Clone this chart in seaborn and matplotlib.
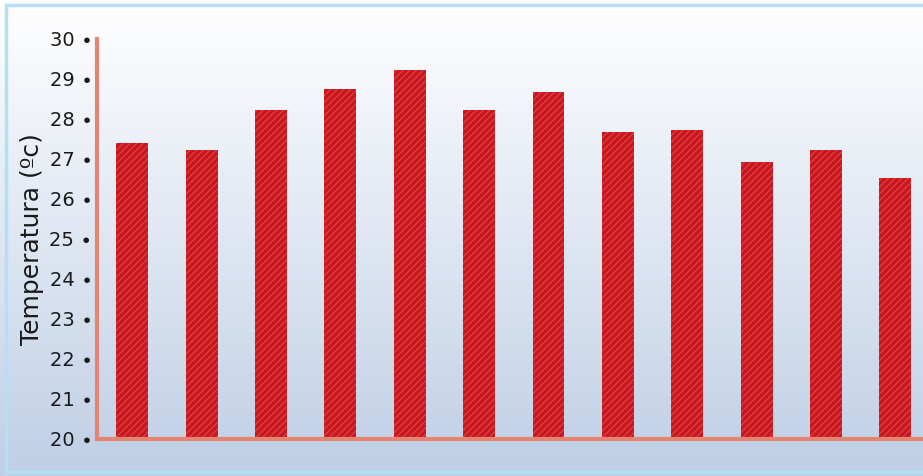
import numpy as np
import pandas as pd
import matplotlib
matplotlib.use("Agg")
import matplotlib.pyplot as plt
from matplotlib.patches import Rectangle
import seaborn as sns

# data (no x labels shown)
categories = [str(i) for i in range(1, 13)]
temperatures = [27.4, 27.22, 28.22, 28.75, 29.22, 28.22, 28.68, 27.68, 27.72, 26.92, 27.22, 26.52]
yticks = list(range(20, 31))

sns.set_theme(style="white")
plt.rcParams['font.family'] = ['DejaVu Sans']
plt.rcParams['hatch.linewidth'] = 0.7

df = pd.DataFrame({"Categoria": categories, "Temperatura": temperatures})

fig = plt.figure(figsize=(9.23, 4.76), dpi=100)

# background gradient, white on top to pale blue at bottom
bg = fig.add_axes([0, 0, 1, 1], zorder=-10)
top = np.array([1.0, 1.0, 1.0])
bot = np.array([0.75, 0.81, 0.90])
t = np.linspace(0, 1, 256)[:, None]
grad = top * (1 - t) + bot * t
bg.imshow(grad[:, None, :], aspect="auto", extent=[0, 1, 0, 1])
bg.set_axis_off()
fig.patches.append(Rectangle((0.006, 0.008), 1.1, 0.982, transform=fig.transFigure,
                             fill=False, edgecolor="#b5dff4", linewidth=2.5))

ax = fig.add_axes([97 / 923, 37 / 476, (923 - 97) / 923, 400 / 476])
ax.set_facecolor("none")
sns.barplot(data=df, x="Categoria", y="Temperatura", ax=ax, width=0.46,
            color="#c8181f", saturation=1, hatch="/////", edgecolor="#e8484c",
            linewidth=0, zorder=2)

ax.set_ylim(20, 30)
ax.set_xlim(-0.51, 11.4)
ax.set_yticks(yticks)
ax.set_yticklabels([f"{v} \u2219" for v in yticks], fontsize=14, color="#1a1a1a")
ax.tick_params(axis="y", length=0, pad=3)
ax.set_xticks([])
ax.set_xlabel("")
ax.set_ylabel("Temperatura (\u00bac)", fontsize=18, color="#1a1a1a", labelpad=4)

for side in ["top", "right"]:
    ax.spines[side].set_visible(False)
for side in ["left", "bottom"]:
    ax.spines[side].set_color("#e38570")
    ax.spines[side].set_linewidth(3)
    ax.spines[side].set_zorder(3)

fig.savefig("out.png", dpi=100)
